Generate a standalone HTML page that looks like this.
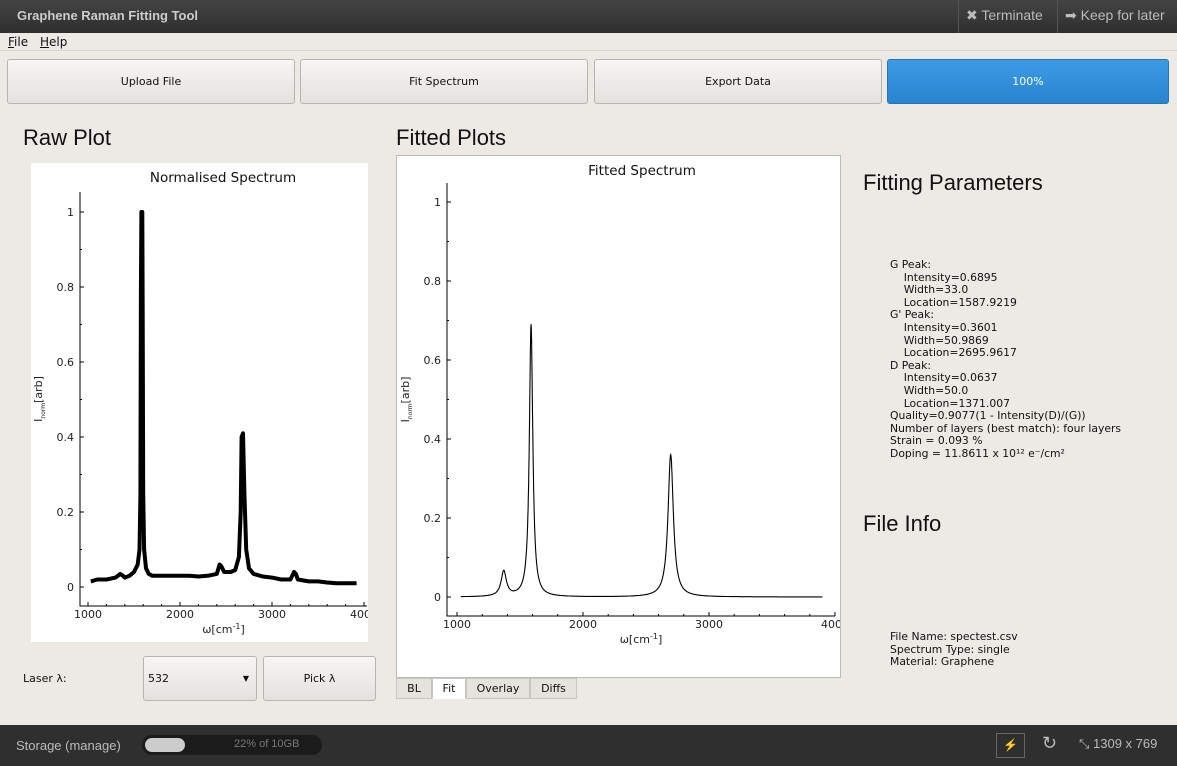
<!DOCTYPE html>
<html><head><meta charset="utf-8">
<style>
*{box-sizing:border-box;margin:0;padding:0}
body{width:1177px;height:766px;overflow:hidden;background:#ede9e5;font-family:"DejaVu Sans","Liberation Sans",sans-serif;position:relative;color:#111}
.abs{position:absolute}
.titlebar{left:0;top:0;width:1177px;height:33px;background:linear-gradient(#444,#2e2e2e);color:#ddd;font-family:"Liberation Sans",sans-serif}
.btn{position:absolute;top:59px;height:45px;border:1px solid #b8b4b0;border-radius:3px;background:linear-gradient(#f7f6f5,#e4e1de);font-size:11px;display:flex;align-items:center;justify-content:center}
.h{font-family:"Liberation Sans",sans-serif;font-size:22px}
.txt{font-size:10.8px;line-height:12.6px;white-space:pre}
.tab{position:absolute;top:678px;height:21px;border:1px solid #c8c4c0;background:#e6e2de;font-size:11px;display:flex;align-items:center;justify-content:center}
.bottom{left:0;top:725px;width:1177px;height:41px;background:#2f2f2f;color:#bbb;font-family:"Liberation Sans",sans-serif}
</style></head><body>
<div class="abs titlebar">
 <div class="abs" style="left:17px;top:8px;font-size:13px;font-weight:bold;color:#ccc">Graphene Raman Fitting Tool</div>
 <div class="abs" style="left:958px;top:0;width:1px;height:33px;background:#555"></div>
 <div class="abs" style="left:966px;top:7px;font-size:14px;color:#bbb">✖ Terminate</div>
 <div class="abs" style="left:1057px;top:0;width:1px;height:33px;background:#555"></div>
 <div class="abs" style="left:1065px;top:7px;font-size:14px;color:#bbb">➡ Keep for later</div>
</div>
<div class="abs" style="left:8px;top:35px;font-size:12px"><u>F</u>ile</div>
<div class="abs" style="left:40px;top:35px;font-size:12px"><u>H</u>elp</div>
<div class="abs" style="left:0;top:50px;width:1177px;height:1px;background:#d8d4d0"></div>
<div class="btn" style="left:7px;width:288px">Upload File</div>
<div class="btn" style="left:300px;width:288px">Fit Spectrum</div>
<div class="btn" style="left:594px;width:288px">Export Data</div>
<div class="btn" style="left:887px;width:282px;background:linear-gradient(#3d9be6,#2a84d0);color:#fff;border-color:#2674b8">100%</div>

<div class="abs h" style="left:23px;top:125px">Raw Plot</div>
<div class="abs h" style="left:396px;top:125px">Fitted Plots</div>
<div class="abs h" style="left:863px;top:170px">Fitting Parameters</div>
<div class="abs h" style="left:863px;top:511px">File Info</div>

<svg class="abs" style="left:0;top:0" width="1177" height="766" id="charts">
 <defs>
  <clipPath id="clipRaw"><rect x="31" y="163" width="337" height="479"/></clipPath>
  <clipPath id="clipFit"><rect x="397" y="156" width="443" height="521"/></clipPath>
 </defs>
 <rect x="31" y="163" width="337" height="479" fill="#fff"/>
 <rect x="396.5" y="155.5" width="444" height="522" fill="#fff" stroke="#bbb"/>
 <g id="raw" clip-path="url(#clipRaw)"></g><g id="fit" clip-path="url(#clipFit)"></g>
</svg>

<div class="tab" style="left:396px;width:36px">BL</div>
<div class="tab" style="left:432px;width:34px;background:#fff;border-bottom-color:#fff">Fit</div>
<div class="tab" style="left:466px;width:64px">Overlay</div>
<div class="tab" style="left:530px;width:47px">Diffs</div>

<div class="abs" style="left:23px;top:672px;font-size:11px">Laser λ:</div>
<div class="btn" style="left:143px;top:656px;width:114px;justify-content:flex-start;padding-left:4px">532<span style="position:absolute;right:7px;font-size:8px">▼</span></div>
<div class="btn" style="left:263px;top:656px;width:113px">Pick λ</div>

<div class="abs txt" style="left:890px;top:259px">G Peak:
    Intensity=0.6895
    Width=33.0
    Location=1587.9219
G' Peak:
    Intensity=0.3601
    Width=50.9869
    Location=2695.9617
D Peak:
    Intensity=0.0637
    Width=50.0
    Location=1371.007
Quality=0.9077(1 - Intensity(D)/(G))
Number of layers (best match): four layers
Strain = 0.093 %
Doping = 11.8611 x 10¹² e⁻/cm²</div>
<div class="abs txt" style="left:890px;top:631px">File Name: spectest.csv
Spectrum Type: single
Material: Graphene</div>

<div class="abs bottom">
 <div class="abs" style="left:16px;top:13px;font-size:13px">Storage (manage)</div>
 <div class="abs" style="left:142px;top:10px;width:180px;height:20px;border-radius:10px;background:#1b1b1b">
  <div class="abs" style="left:3px;top:3px;width:40px;height:14px;border-radius:7px;background:#ccc"></div>
  <div class="abs" style="left:92px;top:3px;font-size:11px;color:#777">22% of 10GB</div>
 </div>
 <div class="abs" style="left:996px;top:8px;width:29px;height:25px;border:1px solid #666;text-align:center;font-size:12px;line-height:23px;color:#ddd">⚡</div>
 <div class="abs" style="left:1042px;top:8px;font-size:18px">↻</div>
 <div class="abs" style="left:1079px;top:11px;font-size:13px">⤡ 1309 x 769</div>
</div>

<script>
// Raw spectrum samples (wavenumber, normalised intensity)
const rawX=[1030,1100,1200,1300,1350,1380,1400,1450,1500,1540,1560,1570,1575,1580,1590,1595,1600,1610,1630,1660,1700,1800,1900,2000,2100,2200,2300,2400,2430,2450,2480,2550,2600,2640,2660,2670,2685,2700,2720,2750,2800,2900,3000,3100,3200,3240,3260,3280,3400,3500,3600,3700,3800,3920];
const rawY=[0.015,0.02,0.02,0.025,0.035,0.03,0.025,0.03,0.04,0.06,0.1,0.24,0.79,1.0,1.0,0.72,0.25,0.1,0.05,0.035,0.03,0.03,0.03,0.03,0.03,0.028,0.03,0.035,0.06,0.055,0.04,0.04,0.045,0.08,0.2,0.4,0.41,0.25,0.1,0.05,0.035,0.028,0.025,0.02,0.02,0.04,0.035,0.02,0.015,0.015,0.012,0.01,0.01,0.01];
// Fitted peaks: D, G, G'
const peakNames=["D","G","G'"];
const peakPos=[1371.007,1587.9219,2695.9617];
const peakAmp=[0.0637,0.6895,0.3601];
const peakWidth=[50.0,33.0,50.9869];
const fitRange=[1030,3900];
const yTicks=[0,0.2,0.4,0.6,0.8,1];
const yTickLabels=["0","0.2","0.4","0.6","0.8","1"];
const xTicks=[1000,2000,3000,4000];
const xTickLabels=["1000","2000","3000","4000"];

const NS="http://www.w3.org/2000/svg";
function mk(parent,tag,attrs){const e=document.createElementNS(NS,tag);for(const k in attrs)e.setAttribute(k,attrs[k]);parent.appendChild(e);return e;}

function axes(g,cfg){
 const sx=v=>cfg.x0+(v-1000)*cfg.kx, sy=v=>cfg.y0-v*cfg.ky;
 const ax=mk(g,'path',{d:`M${cfg.left} ${cfg.top}V${cfg.bottom}H${cfg.right}`,fill:'none',stroke:'#000','stroke-width':1});
 
 yTicks.forEach((t,i)=>{
  mk(g,'line',{x1:cfg.left,x2:cfg.left+4,y1:sy(t),y2:sy(t),stroke:'#000'});
  if(i<yTicks.length-1)mk(g,'line',{x1:cfg.left,x2:cfg.left+2,y1:sy(t+0.1),y2:sy(t+0.1),stroke:'#000'});
  const tx=mk(g,'text',{x:cfg.left-6,y:sy(t)+4,'text-anchor':'end','font-size':11,fill:'#222'});tx.textContent=yTickLabels[i];
  
 });
 xTicks.forEach((t,i)=>{
  const x=sx(t);
  if(x<=cfg.right+1)mk(g,'line',{x1:x,x2:x,y1:cfg.bottom,y2:cfg.bottom-4,stroke:'#000'});
  for(let m=1;m<5;m++){const xm=sx(t+m*200);if(xm<cfg.right)mk(g,'line',{x1:xm,x2:xm,y1:cfg.bottom,y2:cfg.bottom-2,stroke:'#000'});}
  const tx=mk(g,'text',{x:x,y:cfg.bottom+12,'text-anchor':'middle','font-size':11,fill:'#222'});tx.textContent=xTickLabels[i];
  
 });
 const xt=mk(g,'text',{x:(cfg.left+cfg.right)/2,y:cfg.bottom+27,'text-anchor':'middle','font-size':11,fill:'#222'});
 xt.innerHTML='ω[cm<tspan dy="-4" font-size="8">-1</tspan><tspan dy="4">]</tspan>';
 
 const yt=mk(g,'text',{transform:`translate(${cfg.left-38},${(cfg.top+cfg.bottom)/2}) rotate(-90)`,'text-anchor':'middle','font-size':11,fill:'#222'});
 yt.innerHTML='I<tspan dy="3" font-size="6">norm</tspan><tspan dy="-3">[arb]</tspan>';
 
 const tt=mk(g,'text',{x:cfg.titleX,y:cfg.titleY,'text-anchor':'middle','font-size':13.5,fill:'#111'});tt.textContent=cfg.title;
 
 return [sx,sy];
}

const raw=document.getElementById('raw');
const [rsx,rsy]=axes(raw,{x0:88,kx:0.092,y0:587,ky:375,left:80,right:367,top:192,bottom:606,title:'Normalised Spectrum',titleX:223,titleY:182});
const rp=mk(raw,'path',{d:rawX.map((x,i)=>(i?'L':'M')+rsx(x).toFixed(1)+' '+rsy(rawY[i]).toFixed(1)).join(''),fill:'none',stroke:'#000','stroke-width':4,'stroke-linejoin':'round'});


const fit=document.getElementById('fit');
const [fsx,fsy]=axes(fit,{x0:457,kx:0.126,y0:597,ky:395,left:447,right:835,top:183,bottom:616,title:'Fitted Spectrum',titleX:642,titleY:175});
let d='';
for(let x=fitRange[0];x<=fitRange[1];x+=2){
 let y=0;for(let i=0;i<peakPos.length;i++){const g=peakWidth[i]/2;y+=peakAmp[i]*g*g/((x-peakPos[i])**2+g*g);}
 d+=(x===fitRange[0]?'M':'L')+fsx(x).toFixed(1)+' '+fsy(y).toFixed(1);
}
const fp=mk(fit,'path',{d:d,fill:'none',stroke:'#000','stroke-width':1.1});

</script>
</body></html>
